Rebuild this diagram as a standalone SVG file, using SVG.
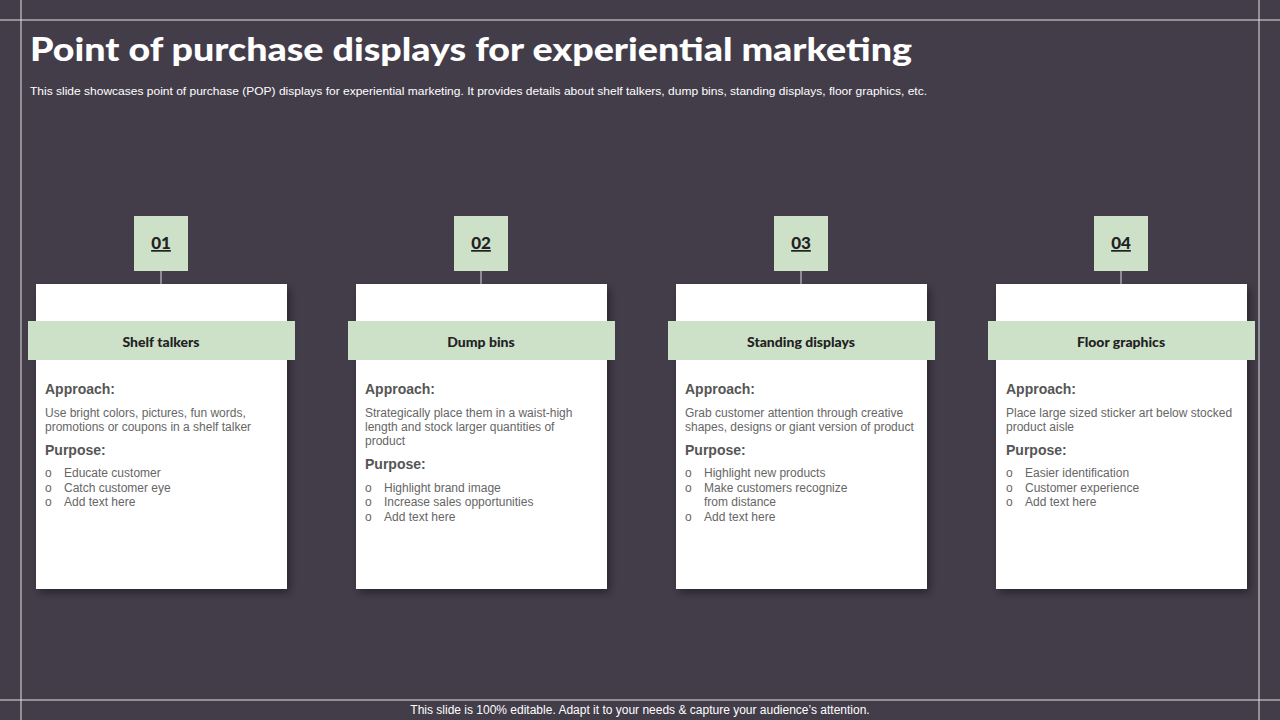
<svg xmlns="http://www.w3.org/2000/svg" width="1280" height="720" viewBox="0 0 1280 720">
<defs>
<style>
.h{font-family:Lato,"Open Sans",sans-serif;font-weight:900;fill:#222;}
.b{font-family:"Liberation Sans",Arial,sans-serif;font-size:12px;fill:#666;}
.s{font-family:"Liberation Sans",Arial,sans-serif;font-size:14px;font-weight:bold;fill:#555;}
.card{fill:#fff;}
.band{fill:#cde0c8;}
.ln{stroke:#ddd;stroke-width:1;}
</style>
<filter id="sh" x="-10%" y="-10%" width="130%" height="130%"><feDropShadow dx="3" dy="4" stdDeviation="4" flood-color="#000" flood-opacity="0.4"/></filter>
</defs>
<rect width="1280" height="720" fill="#433d4a"/>
<g stroke="#fff" stroke-width="1" opacity="0.85">
<line x1="21" y1="0" x2="21" y2="720"/>
<line x1="1259" y1="0" x2="1259" y2="720"/>
<line x1="0" y1="20" x2="1280" y2="20"/>
<line x1="0" y1="700" x2="1280" y2="700"/>
</g>
<text x="30" y="61" font-family="Lato,sans-serif" font-weight="900" font-size="33" fill="#fff" textLength="882" lengthAdjust="spacingAndGlyphs">Point of purchase displays for experiential marketing</text>
<text x="30" y="95" font-family="Liberation Sans,Arial,sans-serif" font-size="11" fill="#fff" textLength="897" lengthAdjust="spacingAndGlyphs">This slide showcases point of purchase (POP) displays for experiential marketing. It provides details about shelf talkers, dump bins, standing displays, floor graphics, etc.</text>
<text x="640" y="714" text-anchor="middle" font-family="Liberation Sans,Arial,sans-serif" font-size="12" fill="#fff">This slide is 100% editable. Adapt it to your needs &amp; capture your audience’s attention.</text>
<g id="connectors">
<line class="ln" x1="161" y1="271" x2="161" y2="284"/>
<line class="ln" x1="481" y1="271" x2="481" y2="284"/>
<line class="ln" x1="801" y1="271" x2="801" y2="284"/>
<line class="ln" x1="1121" y1="271" x2="1121" y2="284"/>
</g>
<g id="node1">
<rect class="band" x="134" y="216" width="54" height="55"/>
<text class="h" x="161" y="249" font-size="17" text-anchor="middle" text-decoration="underline">01</text>
<rect class="card" x="36" y="284" width="251" height="305" filter="url(#sh)"/>
<rect class="band" x="28" y="321" width="267" height="39"/>
<text class="h" x="161" y="347" font-size="14" text-anchor="middle">Shelf talkers</text>
<text class="s" x="45" y="394">Approach:</text>
<text class="b" x="45" y="417">Use bright colors, pictures, fun words,</text>
<text class="b" x="45" y="431">promotions or coupons in a shelf talker</text>
<text class="s" x="45" y="455">Purpose:</text>
<text class="b" x="45" y="477">o<tspan x="64">Educate customer</tspan></text>
<text class="b" x="45" y="492">o<tspan x="64">Catch customer eye</tspan></text>
<text class="b" x="45" y="506">o<tspan x="64">Add text here</tspan></text>
</g>
<g id="node2">
<rect class="band" x="454" y="216" width="54" height="55"/>
<text class="h" x="481" y="249" font-size="17" text-anchor="middle" text-decoration="underline">02</text>
<rect class="card" x="356" y="284" width="251" height="305" filter="url(#sh)"/>
<rect class="band" x="348" y="321" width="267" height="39"/>
<text class="h" x="481" y="347" font-size="14" text-anchor="middle">Dump bins</text>
<text class="s" x="365" y="394">Approach:</text>
<text class="b" x="365" y="417">Strategically place them in a waist-high</text>
<text class="b" x="365" y="431">length and stock larger quantities of</text>
<text class="b" x="365" y="445">product</text>
<text class="s" x="365" y="469">Purpose:</text>
<text class="b" x="365" y="492">o<tspan x="384">Highlight brand image</tspan></text>
<text class="b" x="365" y="506">o<tspan x="384">Increase sales opportunities</tspan></text>
<text class="b" x="365" y="521">o<tspan x="384">Add text here</tspan></text>
</g>
<g id="node3">
<rect class="band" x="774" y="216" width="54" height="55"/>
<text class="h" x="801" y="249" font-size="17" text-anchor="middle" text-decoration="underline">03</text>
<rect class="card" x="676" y="284" width="251" height="305" filter="url(#sh)"/>
<rect class="band" x="668" y="321" width="267" height="39"/>
<text class="h" x="801" y="347" font-size="14" text-anchor="middle">Standing displays</text>
<text class="s" x="685" y="394">Approach:</text>
<text class="b" x="685" y="417">Grab customer attention through creative</text>
<text class="b" x="685" y="431">shapes, designs or giant version of product</text>
<text class="s" x="685" y="455">Purpose:</text>
<text class="b" x="685" y="477">o<tspan x="704">Highlight new products</tspan></text>
<text class="b" x="685" y="492">o<tspan x="704">Make customers recognize</tspan></text>
<text class="b" x="704" y="506">from distance</text>
<text class="b" x="685" y="521">o<tspan x="704">Add text here</tspan></text>
</g>
<g id="node4">
<rect class="band" x="1094" y="216" width="54" height="55"/>
<text class="h" x="1121" y="249" font-size="17" text-anchor="middle" text-decoration="underline">04</text>
<rect class="card" x="996" y="284" width="251" height="305" filter="url(#sh)"/>
<rect class="band" x="988" y="321" width="267" height="39"/>
<text class="h" x="1121" y="347" font-size="14" text-anchor="middle">Floor graphics</text>
<text class="s" x="1006" y="394">Approach:</text>
<text class="b" x="1006" y="417">Place large sized sticker art below stocked</text>
<text class="b" x="1006" y="431">product aisle</text>
<text class="s" x="1006" y="455">Purpose:</text>
<text class="b" x="1006" y="477">o<tspan x="1025">Easier identification</tspan></text>
<text class="b" x="1006" y="492">o<tspan x="1025">Customer experience</tspan></text>
<text class="b" x="1006" y="506">o<tspan x="1025">Add text here</tspan></text>
</g>
</svg>
